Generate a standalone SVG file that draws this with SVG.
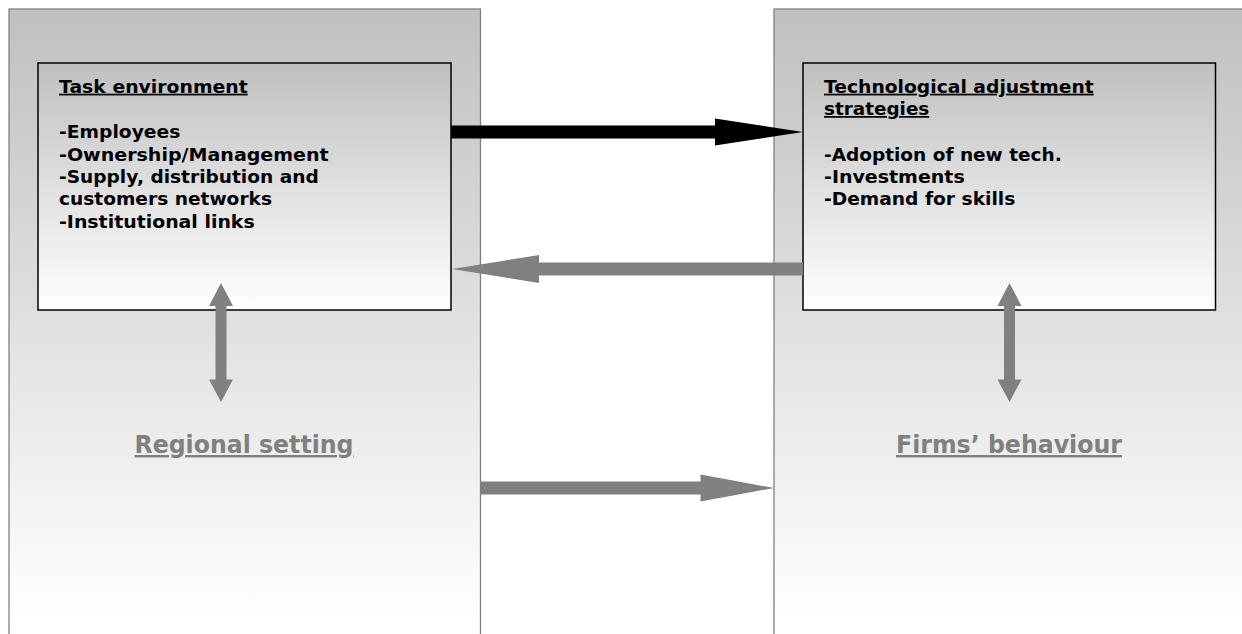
<svg xmlns="http://www.w3.org/2000/svg" width="1242" height="634" viewBox="0 0 1242 634">
  <defs>
    <linearGradient id="gPanel" gradientUnits="userSpaceOnUse" x1="0" y1="9" x2="0" y2="620">
      <stop offset="0" stop-color="#c0c0c0"/>
      <stop offset="1" stop-color="#ffffff"/>
    </linearGradient>
    <linearGradient id="gBox" gradientUnits="userSpaceOnUse" x1="0" y1="63" x2="0" y2="310">
      <stop offset="0" stop-color="#c0c0c0"/>
      <stop offset="1" stop-color="#ffffff"/>
    </linearGradient>
    <style>
      .panel { fill: url(#gPanel); stroke: #808080; stroke-width: 1.3; }
      .box { fill: url(#gBox); stroke: #000000; stroke-width: 1.5; }
      .t { font-family: "DejaVu Sans", Verdana, sans-serif; font-weight: bold; font-size: 17.5px; fill: #000000; }
      .u { text-decoration: underline; }
      .big { font-family: "DejaVu Sans", Verdana, sans-serif; font-weight: bold; font-size: 24px; fill: #808080; text-decoration: underline; }
      .black { fill: #000000; }
      .gray { fill: #808080; }
    </style>
  </defs>
  <rect x="0" y="0" width="1242" height="634" fill="#ffffff"/>

  <g id="regional-setting">
    <rect class="panel" x="9" y="9" width="471.5" height="640"/>
    <text class="big" x="134.5" y="453" textLength="219" lengthAdjust="spacingAndGlyphs">Regional setting</text>
  </g>

  <g id="firms-behaviour">
    <rect class="panel" x="774" y="9" width="490" height="640"/>
    <text class="big" x="896" y="453" textLength="226" lengthAdjust="spacingAndGlyphs">Firms’ behaviour</text>
  </g>

  <g id="task-environment">
    <rect class="box" x="38" y="63" width="413" height="247"/>
    <text class="t u" x="59" y="92.7" textLength="188.7" lengthAdjust="spacingAndGlyphs">Task environment</text>
    <text class="t" x="59" y="138.3" textLength="121.3" lengthAdjust="spacingAndGlyphs">-Employees</text>
    <text class="t" x="59" y="160.7" textLength="269.7" lengthAdjust="spacingAndGlyphs">-Ownership/Management</text>
    <text class="t" x="59" y="182.9" textLength="259.7" lengthAdjust="spacingAndGlyphs">-Supply, distribution and</text>
    <text class="t" x="59" y="205.1" textLength="213" lengthAdjust="spacingAndGlyphs">customers networks</text>
    <text class="t" x="59" y="227.5" textLength="195.7" lengthAdjust="spacingAndGlyphs">-Institutional links</text>
  </g>

  <g id="tech-adjustment">
    <rect class="box" x="803" y="63" width="412.5" height="247"/>
    <text class="t u" x="824" y="92.7" textLength="269.7" lengthAdjust="spacingAndGlyphs">Technological adjustment</text>
    <text class="t u" x="824" y="115" textLength="105.3" lengthAdjust="spacingAndGlyphs">strategies</text>
    <text class="t" x="824" y="160.7" textLength="237.7" lengthAdjust="spacingAndGlyphs">-Adoption of new tech.</text>
    <text class="t" x="824" y="182.9" textLength="140.7" lengthAdjust="spacingAndGlyphs">-Investments</text>
    <text class="t" x="824" y="205.1" textLength="191.3" lengthAdjust="spacingAndGlyphs">-Demand for skills</text>
  </g>

  <g id="connectors">
    <polygon class="black" points="451,125.5 715,125.5 715,118.5 803,132 715,145.5 715,138.5 451,138.5"/>
    <polygon class="gray" points="803,262.5 539,262.5 539,255 452,269 539,283 539,275.5 803,275.5"/>
    <polygon class="gray" points="481,481.5 700.5,481.5 700.5,474.5 774,488 700.5,501.5 700.5,494.5 481,494.5"/>
    <polygon class="gray" points="221,283 233,306 226.5,306 226.5,379.5 233,379.5 221,402 209,379.5 215.5,379.5 215.5,306 209,306"/>
    <polygon class="gray" points="1009.5,283 1021.5,306 1015,306 1015,379.5 1021.5,379.5 1009.5,402 997.5,379.5 1004,379.5 1004,306 997.5,306"/>
  </g>
</svg>
